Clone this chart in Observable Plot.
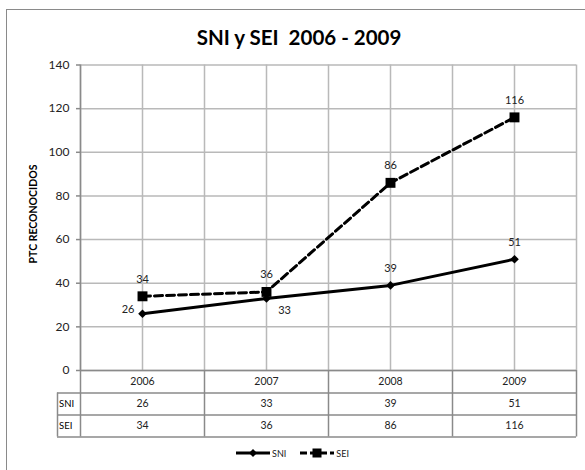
<!DOCTYPE html>
<html>
<head>
<meta charset="utf-8">
<script src="https://cdn.jsdelivr.net/npm/d3@7"></script>
<script src="https://cdn.jsdelivr.net/npm/@observablehq/plot@0.6"></script>
<style>
  html, body { margin: 0; padding: 0; background: #fff; }
  #wrap { position: relative; width: 585px; height: 470px; overflow: hidden; font-family: Lato, "Open Sans", sans-serif; }
  #frame { position: absolute; left: 6px; top: 9px; width: 640px; height: 520px; border: 1.6px solid #8a8a8a; box-sizing: border-box; }
  #title { position: absolute; left: 14px; width: 570px; top: 25px; text-align: center; font-weight: 700; font-size: 20.5px; color: #000; line-height: 24px; white-space: pre; }
  #ylabel { position: absolute; left: 33px; top: 214px; transform: translate(-50%, -50%) rotate(-90deg); font-weight: 700; font-size: 10.5px; color: #000; white-space: nowrap; }
  #chart { position: absolute; left: 0; top: 0; }
  #legend { position: absolute; left: 0; width: 585px; top: 447px; display: flex; justify-content: center; align-items: center; font-size: 9px; color: #222; }
  #legend .item { display: flex; align-items: center; margin: 0 7px; }
  #legend svg { display: block; margin-right: 2px; }
</style>
</head>
<body>
<div id="wrap">
  <div id="frame"></div>
  <div id="chart"></div>
  <div id="title"></div>
  <div id="ylabel"></div>
  <div id="legend"></div>
</div>
<script>
// ---- data ----
const years = [2006, 2007, 2008, 2009];
const sni = [26, 33, 39, 51];
const sei = [34, 36, 86, 116];
const seriesNames = ["SNI", "SEI"];
const yTicks = [0, 20, 40, 60, 80, 100, 120, 140];
const titleText = "SNI y SEI  2006 - 2009";
const yLabel = "PTC RECONOCIDOS";

// ---- derived tables ----
const rows = [];
years.forEach((yr, i) => {
  rows.push({year: yr, series: "SNI", value: sni[i], i});
  rows.push({year: yr, series: "SEI", value: sei[i], i});
});
const sniRows = rows.filter(d => d.series === "SNI");
const seiRows = rows.filter(d => d.series === "SEI");
const half = 0.5;
const bounds = [years[0] - half, ...years.map(y => y + half)];
const xDomain = [bounds[0], bounds[bounds.length - 1]];

const gridColor = "#b9b9b9";
const tableColor = "#8a8a8a";
const textColor = "#222";
const font = "Lato, 'Open Sans', sans-serif";

const chart = Plot.plot({
  width: 585,
  height: 470,
  marginLeft: 80,
  marginRight: 9,
  marginTop: 64.5,
  marginBottom: 100,
  x: {type: "linear", domain: xDomain, axis: null, label: null},
  y: {domain: [0, 140], axis: null, label: null},
  style: {fontFamily: font, background: "transparent", overflow: "visible"},
  marks: [
    Plot.ruleY(yTicks, {stroke: gridColor, strokeWidth: 1.5}),
    Plot.ruleX([...bounds, ...years], {stroke: gridColor, strokeWidth: 1.5}),
    Plot.ruleX([xDomain[0]], {stroke: tableColor, strokeWidth: 1.5}),
    Plot.axisY(yTicks, {anchor: "left", label: null, tickSize: 4, tickPadding: 7, stroke: tableColor, strokeWidth: 1.5, fontSize: 12, fill: textColor, tickFormat: d => d}),
    // SNI line
    Plot.line(sniRows, {x: "year", y: "value", stroke: "#000", strokeWidth: 3}),
    Plot.dot(sniRows, {x: "year", y: "value", symbol: "diamond2", r: 3.9, fill: "#000", stroke: "none"}),
    // SEI dashed line
    Plot.line(seiRows, {x: "year", y: "value", stroke: "#000", strokeWidth: 3, strokeDasharray: "8,4"}),
    Plot.dot(seiRows, {x: "year", y: "value", symbol: "square", r: 5.6, fill: "#000", stroke: "none"}),
    // data labels
    Plot.text(seiRows, {x: "year", y: "value", text: "value", dy: -17, fontSize: 11, fill: textColor}),
    Plot.text(sniRows.filter(d => d.i >= 2), {x: "year", y: "value", text: "value", dy: -17, fontSize: 11, fill: textColor}),
    Plot.text(sniRows.filter(d => d.i === 0), {x: "year", y: "value", text: "value", dx: -8, dy: -4, textAnchor: "end", fontSize: 11, fill: textColor}),
    Plot.text(sniRows.filter(d => d.i === 1), {x: "year", y: "value", text: "value", dx: 18, dy: 12, fontSize: 11, fill: textColor}),
    // data table lines
    Plot.ruleY([0], {x1: xDomain[0], x2: xDomain[1], stroke: tableColor, strokeWidth: 1.5}),
    Plot.ruleY([0], {x1: xDomain[0], x2: xDomain[1], dy: 22.5, insetLeft: -23, stroke: tableColor, strokeWidth: 1.5}),
    Plot.ruleY([0], {x1: xDomain[0], x2: xDomain[1], dy: 44.5, insetLeft: -23, stroke: tableColor, strokeWidth: 1.5}),
    Plot.ruleY([0], {x1: xDomain[0], x2: xDomain[1], dy: 66.5, insetLeft: -23, stroke: tableColor, strokeWidth: 1.5}),
    Plot.ruleX(bounds, {y1: 0, y2: 0, insetBottom: -66.5, stroke: tableColor, strokeWidth: 1.5}),
    Plot.ruleX([xDomain[0]], {y1: 0, y2: 0, insetTop: 22.5, insetBottom: -66.5, dx: -23, stroke: tableColor, strokeWidth: 1.5}),
    // data table text
    Plot.text(years, {x: d => d, y: () => 0, text: d => String(d), dy: 11.5, fontSize: 10.5, fill: textColor}),
    Plot.text(sniRows, {x: "year", y: () => 0, text: "value", dy: 33.5, fontSize: 10.5, fill: textColor}),
    Plot.text(seiRows, {x: "year", y: () => 0, text: "value", dy: 55.5, fontSize: 10.5, fill: textColor}),
    Plot.text(seriesNames.filter(d => d === "SNI"), {x: () => xDomain[0], y: () => 0, text: d => d, dx: -21.5, dy: 33.5, textAnchor: "start", fontSize: 9.5, fill: "#000"}),
    Plot.text(seriesNames.filter(d => d === "SEI"), {x: () => xDomain[0], y: () => 0, text: d => d, dx: -21.5, dy: 55.5, textAnchor: "start", fontSize: 9.5, fill: "#000"})
  ]
});
document.getElementById("chart").appendChild(chart);
document.getElementById("title").textContent = titleText;
document.getElementById("ylabel").textContent = yLabel;

// legend
const legend = document.getElementById("legend");
seriesNames.forEach(name => {
  const item = document.createElement("div");
  item.className = "item";
  const ns = "http://www.w3.org/2000/svg";
  const svg = document.createElementNS(ns, "svg");
  svg.setAttribute("width", 34); svg.setAttribute("height", 12);
  const line = document.createElementNS(ns, "line");
  line.setAttribute("x1", 0); line.setAttribute("x2", 34);
  line.setAttribute("y1", 6); line.setAttribute("y2", 6);
  line.setAttribute("stroke", "#000"); line.setAttribute("stroke-width", 3);
  if (name === "SEI") line.setAttribute("stroke-dasharray", "7,3");
  svg.appendChild(line);
  if (name === "SNI") {
    const p = document.createElementNS(ns, "path");
    p.setAttribute("d", "M17,2 L21,6 L17,10 L13,6 Z");
    p.setAttribute("fill", "#000");
    svg.appendChild(p);
  } else {
    const r = document.createElementNS(ns, "rect");
    r.setAttribute("x", 12.5); r.setAttribute("y", 1.5); r.setAttribute("width", 9); r.setAttribute("height", 9);
    r.setAttribute("fill", "#000");
    svg.appendChild(r);
  }
  item.appendChild(svg);
  const t = document.createElement("span");
  t.textContent = name;
  item.appendChild(t);
  legend.appendChild(item);
});
</script>
</body>
</html>
